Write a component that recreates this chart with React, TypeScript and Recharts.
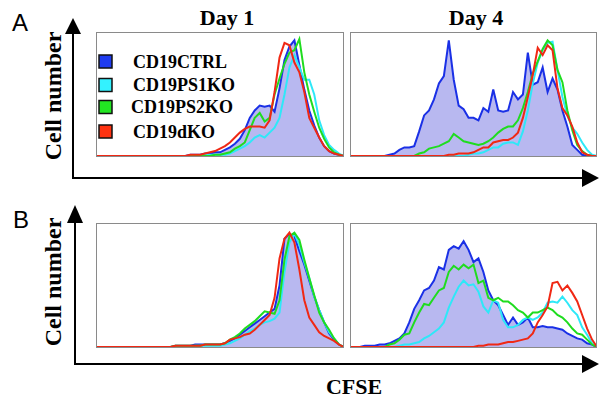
import React from 'react';
import { ComposedChart, Area, Line, XAxis, YAxis } from 'recharts';

// CFSE bins (relative fluorescence, 0..50)
const cfseBins = Array.from({ length: 51 }, (_, i) => i);

// ---- A, Day 1 ----
const aDay1Ctrl = [0,0,0,0,0,0,0,0,0,0,0,0,0,0,0,0,0,0,0,1,1,1,2,2,3,3,5,7,10,14,21,31,37,41,40,41,36,55,78,89,94,74,54,37,25,15,8,4,2,1,0];
const aDay1Ps1 = [0,0,0,0,0,0,0,0,0,0,0,0,0,0,0,0,0,0,0,0,0,0,1,1,1,1,1,2,4,6,8,11,15,17,15,19,23,31,50,72,82,72,62,62,50,29,17,9,5,2,0];
const aDay1Ps2 = [0,0,0,0,0,0,0,0,0,0,0,0,0,0,0,0,0,0,0,0,0,0,0,0,1,1,2,3,6,8,11,21,31,35,28,31,50,63,75,84,86,95,68,50,36,23,14,7,3,1,0];
const aDay1Dko = [0,0,0,0,0,0,0,0,0,0,0,0,0,0,0,0,0,0,0,1,1,1,2,3,4,6,8,11,15,19,22,24,24,24,23,29,52,80,92,90,76,68,52,31,23,15,8,4,2,1,0];

// ---- A, Day 4 ----
const aDay4Ctrl = [0,0,0,0,0,0,0,0,1,2,5,7,7,8,20,33,37,46,59,65,94,62,41,38,31,31,29,39,36,54,37,36,37,52,46,50,84,58,60,72,52,63,54,37,24,9,5,1,0,0,0];
const aDay4Ps1 = [0,0,0,0,0,0,0,0,0,0,0,0,0,0,0,0,0,0,0,0,0,0,0,0,1,2,2,3,5,7,7,10,11,11,9,20,37,59,76,86,92,93,70,48,33,23,18,11,5,1,0];
const aDay4Ps2 = [0,0,0,0,0,0,0,0,0,0,0,0,0,0,2,3,6,7,8,10,12,18,15,12,11,10,9,10,12,15,19,22,24,24,29,39,52,67,77,87,94,90,70,60,37,21,9,4,1,0,0];
const aDay4Dko = [0,0,0,0,0,0,0,0,0,0,0,0,0,0,0,0,0,0,0,0,1,1,2,2,2,3,5,7,7,11,12,13,13,15,19,31,48,66,88,82,90,86,55,39,33,24,11,3,1,0,0];

// ---- B, Day 1 ----
const bDay1Ctrl = [0,0,0,0,0,0,0,0,0,0,0,0,0,0,0,0,1,1,1,1,2,2,2,2,2,2,3,5,7,10,13,16,19,22,25,28,31,50,88,92,90,78,67,54,41,30,20,11,6,2,0];
const bDay1Ps1 = [0,0,0,0,0,0,0,0,0,0,0,0,0,0,0,0,0,0,0,0,1,1,1,1,1,1,2,3,5,7,10,13,15,18,20,21,23,28,61,85,92,83,69,56,41,30,20,12,7,2,0];
const bDay1Ps2 = [0,0,0,0,0,0,0,0,0,0,0,0,0,0,0,0,1,1,1,1,1,1,2,2,2,2,3,6,8,11,15,18,21,25,29,28,27,38,71,90,93,87,71,56,42,28,20,14,7,2,0];
const bDay1Dko = [0,0,0,0,0,0,0,0,0,0,0,0,0,0,0,0,1,1,1,1,1,1,2,2,2,2,3,6,7,8,10,11,14,18,22,26,40,72,88,93,85,63,38,24,18,12,9,7,5,2,0];

// ---- B, Day 4 ----
const bDay4Ctrl = [0,0,0,1,1,1,2,2,3,5,7,11,20,31,38,46,48,54,65,63,79,82,80,86,79,69,72,61,46,38,34,26,18,24,18,20,24,16,16,17,16,16,15,14,11,9,7,6,3,2,0];
const bDay4Ps1 = [0,0,0,0,0,0,0,0,0,0,1,2,2,3,4,7,9,12,15,20,32,41,49,54,50,51,45,33,28,38,36,22,16,16,18,22,24,22,24,28,36,37,36,41,36,30,26,16,10,3,0];
const bDay4Ps2 = [0,0,0,0,0,0,0,0,2,3,6,10,11,20,28,35,34,40,46,48,61,66,63,67,64,67,52,54,40,38,40,37,37,34,30,28,24,28,28,30,32,30,26,24,20,15,11,10,6,2,0];
const bDay4Dko = [0,0,0,0,0,0,0,0,0,0,0,0,0,0,0,0,0,0,0,0,0,0,0,0,0,0,1,1,2,2,2,3,4,4,5,6,7,11,20,26,33,52,53,46,50,44,37,26,15,6,0];

const seriesNames = ['CD19CTRL', 'CD19PS1KO', 'CD19PS2KO', 'CD19dKO'];
const dayLabels = ['Day 1', 'Day 4'];

const BLUE = '#1a30e6';
const FILL = '#b8b8f0';
const CYAN = '#2ee8f8';
const GREEN = '#1fdc1f';
const RED = '#f02814';
const legendColors = ['#1f3cf0', '#33f2ff', '#22e622', '#ff3311'];

type PanelProps = {
  left: number;
  top: number;
  width: number;
  ctrl: number[];
  ps1: number[];
  ps2: number[];
  dko: number[];
};

function Panel({ left, top, width, ctrl, ps1, ps2, dko }: PanelProps) {
  const rows = cfseBins.map((b, k) => ({ b, ctrl: ctrl[k], ps1: ps1[k], ps2: ps2[k], dko: dko[k] }));
  const h = 125;
  return (
    <div style={{ position: 'absolute', left, top, width, height: h }}>
      <ComposedChart width={width} height={h} data={rows} margin={{ top: 1, right: 0, bottom: 1, left: 0 }}>
        <XAxis dataKey="b" type="number" domain={[0, 50]} hide />
        <YAxis domain={[0, 100]} hide />
        <Area dataKey="ctrl" type="linear" stroke={BLUE} strokeWidth={2} fill={FILL} fillOpacity={1} isAnimationActive={false} dot={false} activeDot={false} />
        <Line dataKey="ps1" type="linear" stroke={CYAN} strokeWidth={2} dot={false} activeDot={false} isAnimationActive={false} />
        <Line dataKey="ps2" type="linear" stroke={GREEN} strokeWidth={2} dot={false} activeDot={false} isAnimationActive={false} />
        <Line dataKey="dko" type="linear" stroke={RED} strokeWidth={2} dot={false} activeDot={false} isAnimationActive={false} />
      </ComposedChart>
      <div style={{ position: 'absolute', left: 0, top: 0, width, height: h, boxSizing: 'border-box', border: '1.5px solid #8a8a8a', pointerEvents: 'none' }} />
    </div>
  );
}

const serif = '"Liberation Serif", "Times New Roman", serif';
const sans = '"Liberation Sans", Arial, sans-serif';

export default function App() {
  const legendRows = [61.5, 85, 107, 131.5];
  const legendTextX = [133, 133, 131, 133];
  return (
    <div style={{ position: 'absolute', left: 0, top: 0, width: 603, height: 399, background: '#fff', overflow: 'hidden' }}>
      <Panel left={96} top={32} width={248} ctrl={aDay1Ctrl} ps1={aDay1Ps1} ps2={aDay1Ps2} dko={aDay1Dko} />
      <Panel left={350} top={32} width={247} ctrl={aDay4Ctrl} ps1={aDay4Ps1} ps2={aDay4Ps2} dko={aDay4Dko} />
      <Panel left={96} top={223} width={248} ctrl={bDay1Ctrl} ps1={bDay1Ps1} ps2={bDay1Ps2} dko={bDay1Dko} />
      <Panel left={350} top={223} width={247} ctrl={bDay4Ctrl} ps1={bDay4Ps1} ps2={bDay4Ps2} dko={bDay4Dko} />
      <svg width={603} height={399} style={{ position: 'absolute', left: 0, top: 0, pointerEvents: 'none' }}>
        {/* panel letters */}
        <text x={12} y={31} fontFamily={sans} fontSize={24} fill="#000">A</text>
        <text x={13} y={228} fontFamily={sans} fontSize={24} fill="#000">B</text>
        {/* day titles */}
        <text x={227} y={25} textAnchor="middle" fontFamily={serif} fontWeight="bold" fontSize={22} fill="#000">{dayLabels[0]}</text>
        <text x={476} y={25} textAnchor="middle" fontFamily={serif} fontWeight="bold" fontSize={22} fill="#000">{dayLabels[1]}</text>
        {/* y labels */}
        <text transform="translate(61,96) rotate(-90)" textAnchor="middle" fontFamily={serif} fontWeight="bold" fontSize={24} fill="#000">Cell number</text>
        <text transform="translate(61,282) rotate(-90)" textAnchor="middle" fontFamily={serif} fontWeight="bold" fontSize={24} fill="#000">Cell number</text>
        {/* x label */}
        <text x={354} y={394} textAnchor="middle" fontFamily={serif} fontWeight="bold" fontSize={22} fill="#000">CFSE</text>
        {/* axes A */}
        <line x1={73} y1={30} x2={73} y2={179} stroke="#000" strokeWidth={2} />
        <polygon points="73,18 65,34 81,34" fill="#000" />
        <line x1={72} y1={178} x2={585} y2={178} stroke="#000" strokeWidth={2} />
        <polygon points="599,178 582,169 582,187" fill="#000" />
        {/* axes B */}
        <line x1={75} y1={220} x2={75} y2={365} stroke="#000" strokeWidth={2} />
        <polygon points="75,205 67,223 83,223" fill="#000" />
        <line x1={74} y1={364} x2={585} y2={364} stroke="#000" strokeWidth={2} />
        <polygon points="599,364 582,355 582,373" fill="#000" />
        {/* legend */}
        {seriesNames.map((name, k) => (
          <g key={name}>
            <rect x={99} y={legendRows[k] - 6.5} width={13} height={13} fill={legendColors[k]} stroke="#111" strokeWidth={1.5} />
            <text x={legendTextX[k]} y={legendRows[k] + 6} fontFamily={serif} fontWeight="bold" fontSize={18} fill="#000">{name}</text>
          </g>
        ))}
      </svg>
    </div>
  );
}
